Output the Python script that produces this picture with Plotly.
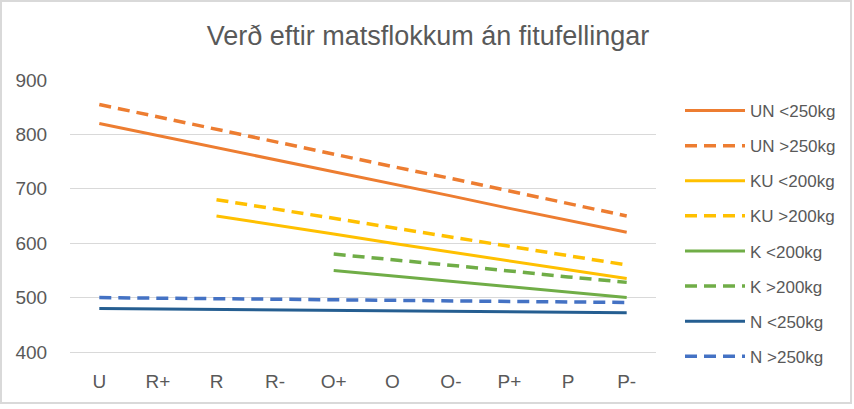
import plotly.graph_objects as go

categories = ["U", "R+", "R", "R-", "O+", "O", "O-", "P+", "P", "P-"]

un_lt250 = [820, 798, 776, 753, 731, 709, 687, 664, 642, 620]
un_gt250 = [855, 832, 810, 787, 764, 741, 719, 696, 673, 650]
ku_lt200 = [None, None, 650, 634, 617, 600, 584, 568, 551, 535]
ku_gt200 = [None, None, 680, 663, 646, 629, 611, 594, 577, 560]
k_lt200 = [None, None, None, None, 550, 540, 530, 520, 510, 500]
k_gt200 = [None, None, None, None, 580, 570, 559, 549, 538, 528]
n_lt250 = [480, 479, 478, 478, 477, 476, 475, 474, 473, 472]
n_gt250 = [500, 499, 498, 497, 496, 495, 494, 493, 492, 491]

series = [
    ("UN <250kg", un_lt250, "#ED7D31", "solid"),
    ("UN >250kg", un_gt250, "#ED7D31", "12px,7px"),
    ("KU <200kg", ku_lt200, "#FFC000", "solid"),
    ("KU >200kg", ku_gt200, "#FFC000", "12px,7px"),
    ("K <200kg", k_lt200, "#70AD47", "solid"),
    ("K >200kg", k_gt200, "#70AD47", "12px,7px"),
    ("N <250kg", n_lt250, "#255E91", "solid"),
    ("N >250kg", n_gt250, "#4472C4", "12px,7px"),
]

fig = go.Figure()
for i, (name, vals, color, dash) in enumerate(series):
    fig.add_trace(go.Scatter(
        x=categories, y=vals, name=name, mode="lines",
        line=dict(color=color, width=3.5 if dash != "solid" else 3, dash=dash),
        legendgroup=f"g{i}",
    ))

L, R, T, B = 70, 198, 80, 57
W, H = 854, 409
pw, ph = W - L - R, H - T - B

fig.update_layout(
    width=W, height=H,
    margin=dict(l=L, r=R, t=T, b=B),
    paper_bgcolor="white", plot_bgcolor="white",
    font=dict(family="Liberation Sans, Arial, sans-serif", color="#595959"),
    title=dict(text="Verð eftir matsflokkum án fitufellingar",
               x=428 / W, xanchor="center", y=1 - 36 / H, yanchor="middle",
               font=dict(size=27, color="#595959")),
    legend=dict(x=(680 - L) / pw, xanchor="left", y=(H - B - 93) / ph, yanchor="top",
                font=dict(size=17, color="#595959"), tracegroupgap=10,
                maxheight=400, itemwidth=60, bgcolor="rgba(0,0,0,0)"),
    xaxis=dict(type="category", range=[-0.5, 9.5], showgrid=False,
               showline=True, linecolor="#D9D9D9", linewidth=1,
               ticks="outside", ticklen=12, tickcolor="rgba(0,0,0,0)",
               tickfont=dict(size=19, color="#595959"), fixedrange=True),
    yaxis=dict(range=[400, 900], dtick=100, tick0=400, showgrid=True,
               gridcolor="#D9D9D9", gridwidth=1, zeroline=False, showline=False,
               ticks="outside", ticklen=18, tickcolor="rgba(0,0,0,0)",
               tickfont=dict(size=19, color="#595959")),
    showlegend=True,
    shapes=[dict(type="rect", xref="paper", yref="paper",
                 x0=(1 - L) / pw, x1=(W - 3 - L) / pw,
                 y0=-((403 - (H - B)) / ph), y1=(H - B - 1) / ph,
                 line=dict(color="#D9D9D9", width=2), fillcolor="rgba(0,0,0,0)",
                 layer="below")],
)
fig.write_html("out.html")
